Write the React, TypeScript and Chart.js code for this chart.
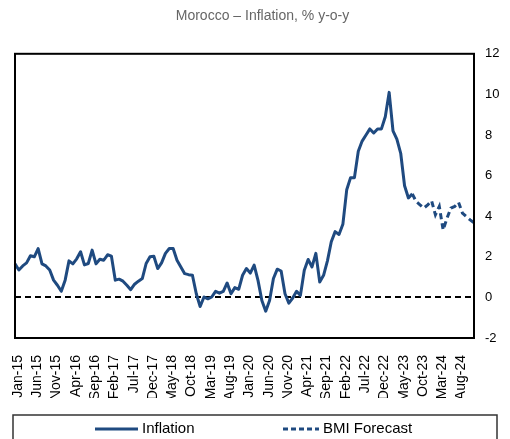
import React, { useEffect, useRef } from "react";
import { Chart, registerables } from "chart.js";

Chart.register(...registerables);

const monthNames = ["Jan", "Feb", "Mar", "Apr", "May", "Jun", "Jul", "Aug", "Sep", "Oct", "Nov", "Dec"];
const years = ["15", "16", "17", "18", "19", "20", "21", "22", "23", "24"];
const categories: string[] = years.flatMap((y) => monthNames.map((m) => `${m}-${y}`));

// Inflation, % y-o-y (Jan-15 .. Aug-23)
const inflationActual = [
  1.65, 1.35, 1.55, 1.7, 2.05, 2.0, 2.4, 1.65, 1.55, 1.35, 0.85, 0.6,
  0.3, 0.85, 1.8, 1.65, 1.9, 2.25, 1.6, 1.67, 2.33, 1.65, 1.88, 1.83,
  2.1, 2.03, 0.85, 0.9, 0.8, 0.6, 0.38, 0.65, 0.8, 0.93, 1.67, 2.0,
  2.03, 1.42, 1.7, 2.17, 2.41, 2.41, 1.83, 1.5, 1.17, 1.12, 1.09, 0.18,
  -0.45, 0.02, -0.07, 0.02, 0.3, 0.21, 0.3, 0.71, 0.18, 0.48, 0.4, 1.09,
  1.42, 1.2, 1.59, 0.84, -0.15, -0.68, -0.15, 0.93, 1.39, 1.3, 0.18, -0.28,
  -0.03, 0.3, 0.1, 1.34, 1.87, 1.5, 2.17, 0.76, 1.09, 1.8, 2.74, 3.24,
  3.1, 3.6, 5.3, 5.9, 5.9, 7.2, 7.7, 8.0, 8.3, 8.1, 8.3, 8.3,
  8.9, 10.1, 8.2, 7.8, 7.1, 5.5, 4.9, 5.1,
];

// BMI Forecast (Aug-23 .. Dec-24)
const forecastStart = "Aug-23";
const bmiForecast = [5.1, 4.72, 4.56, 4.4, 4.56, 4.76, 4.07, 4.48, 3.32, 3.9, 4.4, 4.48, 4.68, 4.15, 3.98, 3.82, 3.68];

const yMin = -2;
const yMax = 12;
const yStep = 2;
const labelEvery = 5;

const titleText = "Morocco \u2013 Inflation, % y-o-y";
const seriesNames = ["Inflation", "BMI Forecast"];

const NAVY = "#1f4a80";
const FONT = "'Liberation Sans', Arial, sans-serif";

export default function App() {
  const ref = useRef<HTMLCanvasElement | null>(null);

  useEffect(() => {
    document.body.style.margin = "0";
    const canvas = ref.current;
    if (!canvas) return;

    const startIdx = categories.indexOf(forecastStart);
    const inflationData = categories.map((_, i) => (i < inflationActual.length ? inflationActual[i] : null));
    const forecastData = categories.map((_, i) =>
      i >= startIdx && i - startIdx < bmiForecast.length ? bmiForecast[i - startIdx] : null
    );

    const frame = {
      id: "frame",
      afterDatasetsDraw(chart: any) {
        const { ctx, chartArea: a } = chart;
        ctx.save();
        ctx.strokeStyle = "#000";
        ctx.lineWidth = 2;
        ctx.strokeRect(a.left, a.top, a.right - a.left, a.bottom - a.top);
        ctx.restore();
      },
    };

    const boxLegend = {
      id: "boxLegend",
      afterDraw(chart: any) {
        const ctx = chart.ctx;
        const w = chart.width;
        const top = chart.chartArea.bottom + 77;
        const cy = top + 14;
        const cx = w / 2;
        ctx.save();
        ctx.strokeStyle = "#333";
        ctx.lineWidth = 1.5;
        ctx.strokeRect(13, top, w - 26, 40);
        const ds = chart.data.datasets;
        const items = [
          { x: cx - 160, len: 43 },
          { x: cx + 28, len: 36 },
        ];
        ctx.font = `15px ${FONT}`;
        ctx.textBaseline = "middle";
        ctx.textAlign = "left";
        items.forEach((it, k) => {
          const d = ds[k];
          ctx.beginPath();
          ctx.strokeStyle = d.borderColor;
          ctx.lineWidth = 3;
          ctx.setLineDash(k === 1 ? [5, 3] : []);
          ctx.moveTo(it.x, cy);
          ctx.lineTo(it.x + it.len, cy);
          ctx.stroke();
          ctx.setLineDash([]);
          ctx.fillStyle = "#000";
          ctx.fillText(d.label, it.x + it.len + 4, cy);
        });
        ctx.restore();
      },
    };

    const chart = new Chart(canvas, {
      type: "line",
      data: {
        labels: categories,
        datasets: [
          {
            label: seriesNames[0],
            data: inflationData,
            borderColor: NAVY,
            borderWidth: 3,
            pointRadius: 0,
            tension: 0,
            fill: false,
            borderJoinStyle: "round",
            spanGaps: false,
          },
          {
            label: seriesNames[1],
            data: forecastData,
            borderColor: NAVY,
            borderWidth: 3,
            borderDash: [6, 4],
            pointRadius: 0,
            tension: 0,
            fill: false,
            spanGaps: false,
          },
        ],
      },
      options: {
        responsive: false,
        animation: false,
        layout: { padding: { left: 15, right: 0, top: 0, bottom: 41 } },
        plugins: {
          legend: { display: false },
          tooltip: { enabled: false },
          title: {
            display: true,
            text: titleText,
            color: "#666",
            font: { family: FONT, size: 14, weight: "normal" },
            padding: { top: 8, bottom: 29 },
          },
        },
        scales: {
          x: {
            type: "category",
            offset: false,
            grid: { display: false },
            border: { display: false },
            ticks: {
              autoSkip: false,
              maxRotation: 90,
              minRotation: 90,
              padding: 9,
              labelOffset: 3,
              color: "#000",
              font: { family: FONT, size: 14 },
              callback: (_v: any, i: number) => (i % labelEvery === 0 ? categories[i] : null),
            },
            afterFit: (s: any) => {
              s.height = 60;
            },
          },
          y: {
            position: "right",
            min: yMin,
            max: yMax,
            ticks: {
              stepSize: yStep,
              padding: 11,
              color: "#000",
              font: { family: FONT, size: 13 },
            },
            grid: {
              drawTicks: false,
              color: (c: any) => (c.tick && c.tick.value === 0 ? "#000" : "rgba(0,0,0,0)"),
              lineWidth: 2,
            },
            border: { display: false, dash: [6, 4] },
            afterFit: (s: any) => {
              s.width = 36;
            },
          },
        },
      },
      plugins: [frame, boxLegend],
    } as any);

    return () => chart.destroy();
  }, []);

  return (
    <div style={{ width: 510, height: 439 }}>
      <canvas ref={ref} width={510} height={439} style={{ display: "block" }} />
    </div>
  );
}
